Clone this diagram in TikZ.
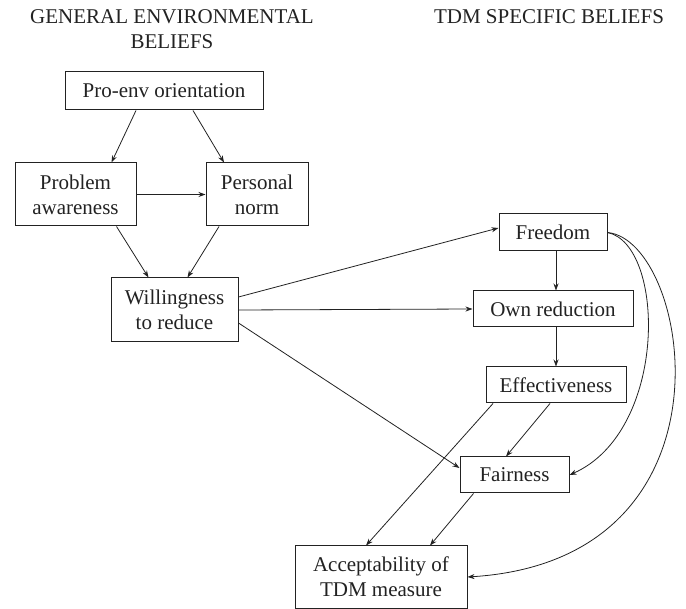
\documentclass[tikz,border=0pt]{standalone}
\usepackage{fontspec}
\setmainfont{Liberation Serif}
\newfontfamily\tmsfont{Liberation Serif}
\usetikzlibrary{arrows.meta}
\definecolor{ink}{HTML}{222222}
\begin{document}
\begin{tikzpicture}[x=1pt,y=-1pt,
  box/.style={draw=ink, line width=1pt, inner sep=0pt, align=center,
    font=\tmsfont\fontsize{21}{25}\selectfont, text=ink},
  head/.style={inner sep=0pt, align=center, font=\tmsfont\fontsize{21}{25}\selectfont, text=ink},
  conn/.style={draw=ink, line width=0.8pt, -{Stealth[length=7pt,width=5pt]}}]
\useasboundingbox (0,0) rectangle (686,609);

% headings
\node[head] (h1) at (172,29.5) {GENERAL ENVIRONMENTAL\\BELIEFS};
\node[head] (h2) at (549,17) {TDM SPECIFIC BELIEFS};

% boxes
\node[box, minimum width=198pt, minimum height=38pt] (pro) at (164,91) {Pro-env orientation};
\node[box, minimum width=121pt, minimum height=63pt] (pa) at (75.5,194.5) {Problem\\awareness};
\node[box, minimum width=102pt, minimum height=63pt] (pn) at (257,194.5) {Personal\\norm};
\node[box, minimum width=127pt, minimum height=64pt] (wil) at (174.5,310) {Willingness\\to reduce};
\node[box, minimum width=108pt, minimum height=37pt] (free) at (553,232.5) {Freedom};
\node[box, minimum width=160pt, minimum height=36pt] (own) at (553,309) {Own reduction};
\node[box, minimum width=140pt, minimum height=36pt] (eff) at (556,385) {Effectiveness};
\node[box, minimum width=109pt, minimum height=36pt] (fair) at (514.5,475) {Fairness};
\node[box, minimum width=172pt, minimum height=62pt] (acc) at (381,577) {Acceptability of\\TDM measure};

% connectors
\draw[conn] ([xshift=-28pt]pro.south) -- ([xshift=36pt]pa.north);
\draw[conn] ([xshift=29pt]pro.south) -- ([xshift=-33pt]pn.north);
\draw[conn] (pa.east) -- (pn.west);
\draw[conn] ([xshift=41pt]pa.south) -- ([xshift=-26pt]wil.north);
\draw[conn] ([xshift=-38pt]pn.south) -- ([xshift=13pt]wil.north);
\draw[conn] ([yshift=13pt]wil.east) -- ([yshift=4.5pt]free.west);
\draw[conn] (wil.east) -- (own.west);
\draw[conn] ([yshift=-13pt]wil.east) -- ([yshift=7pt]fair.west);
\draw[conn] ([xshift=3pt]free.south) -- ([xshift=3pt]own.north);
\draw[conn] ([xshift=3pt]own.south) -- (eff.north);
\draw[conn] ([xshift=-6pt]eff.south) -- ([xshift=-8.5pt]fair.north);
\draw[conn] ([xshift=-63pt]eff.south) -- ([xshift=-15pt]acc.north);
\draw[conn] ([xshift=-41pt]fair.south) -- ([xshift=49pt]acc.north);
\draw[conn] (free.east) .. controls +(58,12) and +(99,-44) .. (fair.east);
\draw[conn] (free.east) .. controls +(83,8) and +(278,-17) .. (acc.east);
\end{tikzpicture}
\end{document}
